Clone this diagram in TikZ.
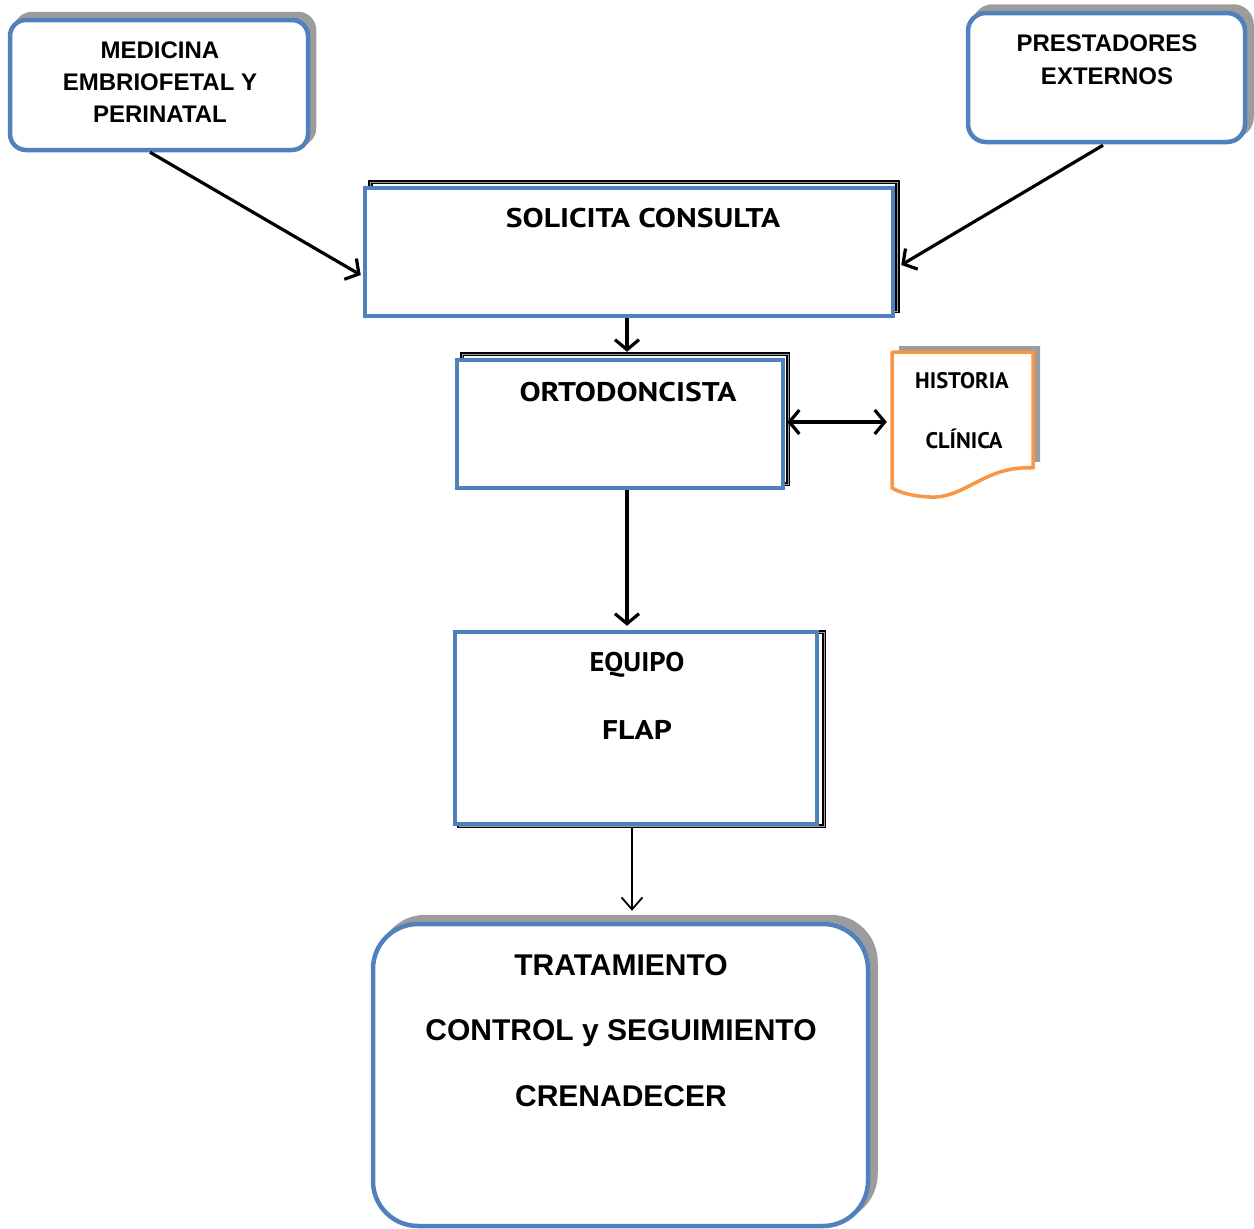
\documentclass[tikz,border=0pt]{standalone}
\usepackage{fontspec}
\setmainfont{Liberation Sans}
\newfontfamily\tah{PT Sans}
\usetikzlibrary{arrows.meta}
\definecolor{bl}{HTML}{4F81BD}
\definecolor{orn}{HTML}{F79646}
\definecolor{shd}{HTML}{9C9C9C}
\begin{document}
\begin{tikzpicture}[x=1pt,y=-1pt,
  bluebox/.style={draw=bl,line width=4.5pt,fill=white,inner sep=0pt},
  shadowbox/.style={fill=shd,draw=shd,line width=4.5pt,inner sep=0pt},
  blkframe/.style={draw=black,line width=1.7pt,double=shd,double distance=0.9pt,inner sep=0pt},
  conn/.style={line width=3.2pt,-{Straight Barb[length=10pt,width=24pt,line width=3.2pt]}},
  thinconn/.style={line width=1.8pt,-{Straight Barb[length=12pt,width=21pt,line width=1.8pt]}},
  both/.style={line width=3.2pt,{Straight Barb[length=10pt,width=24pt,line width=3.2pt]}-{Straight Barb[length=10pt,width=24pt,line width=3.2pt]}},
  arialtxt/.style={font=\bfseries\fontsize{24}{28}\selectfont,anchor=base,inner sep=0pt},
  bigtxt/.style={font=\bfseries\fontsize{30}{34}\selectfont,anchor=base,inner sep=0pt},
  tahtxt/.style={font=\tah\bfseries\fontsize{27}{32}\selectfont,anchor=base,inner sep=0pt,xscale=1.17},
  doctxt/.style={font=\tah\bfseries\fontsize{22.5}{28}\selectfont,anchor=base,inner sep=0pt},
]
\useasboundingbox (0,0) rectangle (1254,1229);
% ---- top left box
\node[shadowbox,rounded corners=16pt,minimum width=298pt,minimum height=130pt] (medsh) at (165,79) {};
\node[bluebox,rounded corners=16pt,minimum width=298pt,minimum height=130pt] (med) at (159,85) {};
\node[arialtxt] (med1) at (160,58) {MEDICINA};
\node[arialtxt] (med2) at (160,90) {EMBRIOFETAL Y};
\node[arialtxt] (med3) at (160,122) {PERINATAL};
% ---- top right box
\node[shadowbox,rounded corners=18pt,minimum width=277pt,minimum height=129pt] (presh) at (1113,71) {};
\node[bluebox,rounded corners=18pt,minimum width=277pt,minimum height=129pt] (pre) at (1106.5,77.5) {};
\node[arialtxt] (pre1) at (1107,51) {PRESTADORES};
\node[arialtxt] (pre2) at (1107,84) {EXTERNOS};
% ---- solicita
\node[blkframe,minimum width=527pt,minimum height=129pt] (solsh) at (634,246.5) {};
\node[bluebox,minimum width=528pt,minimum height=128pt] (sol) at (629,252) {};
\node[tahtxt] (sol1) at (643,227.5) {SOLICITA CONSULTA};
% ---- ortodoncista
\node[blkframe,minimum width=326pt,minimum height=130pt] (orsh) at (625,419) {};
\node[bluebox,minimum width=326pt,minimum height=128pt] (ort) at (620,424) {};
\node[tahtxt] (ort1) at (628,401) {ORTODONCISTA};
% ---- historia clinica document
\fill[shd] (899,346) -- (1040,346) -- (1040,462) .. controls (992,459) and (972,493) .. (937,491)
  .. controls (917,490) and (906,486) .. (899,482) -- cycle;
\draw[draw=orn,line width=3.5pt,fill=white,line join=round] (892,352) -- (1033,352) -- (1033,468)
  .. controls (985,465) and (965,499) .. (930,497)
  .. controls (910,496) and (899,492) .. (892,488) -- cycle;
\node[minimum width=141pt,minimum height=136pt,inner sep=0pt] (doc) at (962.5,420) {};
\node[doctxt] (doc1) at (962,388) {HISTORIA};
\node[doctxt] (doc2) at (964,448) {CLÍNICA};
% ---- equipo
\node[blkframe,minimum width=365pt,minimum height=194pt] (eqsh) at (641.5,729) {};
\node[bluebox,minimum width=362pt,minimum height=192pt] (equ) at (636,728) {};
\node[tahtxt,xscale=0.9] (equ1) at (637,671) {EQUIPO};
\node[tahtxt] (equ2) at (637,739) {FLAP};
% ---- tratamiento
\node[shadowbox,rounded corners=45pt,minimum width=495pt,minimum height=302pt] (trsh) at (628,1068) {};
\node[bluebox,rounded corners=45pt,minimum width=495pt,minimum height=302pt] (tra) at (620.5,1075) {};
\node[bigtxt] (tra1) at (621,975.5) {TRATAMIENTO};
\node[bigtxt] (tra2) at (621,1040.5) {CONTROL y SEGUIMIENTO};
\node[bigtxt] (tra3) at (621,1106.5) {CRENADECER};
% ---- connectors
\draw[conn] ([xshift=-9pt]med.south) -- ([xshift=-2pt,yshift=-23pt]sol.west);
\draw[conn] ([xshift=-3.5pt,yshift=-1pt]pre.south) -- ([xshift=6pt,yshift=-13pt]sol.east);
\draw[conn] ([xshift=-2pt]sol.south) -- ([xshift=7pt,yshift=6pt]ort.north);
\draw[both] ([xshift=2pt,yshift=2pt]ort.east) -- ([xshift=-5pt,yshift=-2pt]doc.west);
\draw[conn] ([xshift=7pt]ort.south) -- ([xshift=-9pt,yshift=4pt]equ.north);
\draw[thinconn] ([xshift=-4pt,yshift=-2pt]equ.south) -- ([xshift=11.5pt,yshift=11pt]tra.north);
\end{tikzpicture}
\end{document}
